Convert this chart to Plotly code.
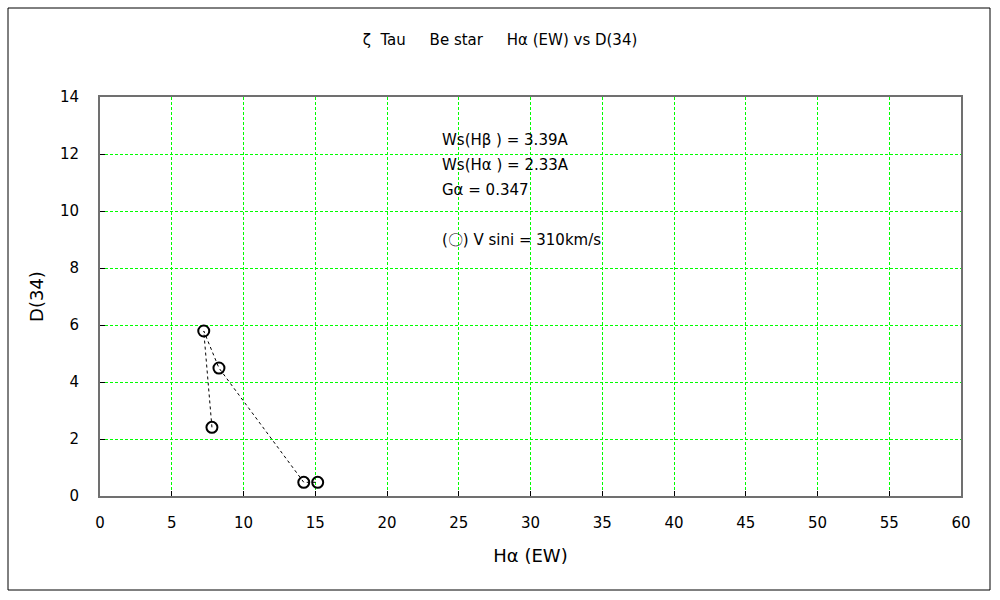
import plotly.graph_objects as go

# Data: Hα (EW) vs D(34), in plotting order
ha_ew = [7.8, 7.23, 8.29, 14.2, 15.17]
d34 = [2.41, 5.79, 4.49, 0.48, 0.48]

x_ticks = list(range(0, 61, 5))
y_ticks = list(range(0, 15, 2))

FONT = "DejaVu Sans, sans-serif"

fig = go.Figure()
fig.add_trace(go.Scatter(
    x=ha_ew, y=d34, mode="lines+markers",
    line=dict(color="black", width=1, dash="3px,3px"),
    marker=dict(symbol="circle-open", size=11, color="black", line=dict(width=2, color="black")),
    showlegend=False,
))

fig.update_layout(
    width=1000, height=600,
    paper_bgcolor="white", plot_bgcolor="white",
    margin=dict(l=100, r=39, t=97, b=104),
    font=dict(family=FONT, size=15, color="black"),
    title=dict(text="ζ  Tau     Be star     Hα (EW) vs D(34)", x=0.5, xanchor="center",
               y=1 - 40 / 600, yanchor="middle", font=dict(size=15, family=FONT)),
    xaxis=dict(range=[0, 60], tickvals=x_ticks, ticktext=[str(v) for v in x_ticks],
               showgrid=True, gridcolor="#00FF00", griddash="3px,2px", gridwidth=1,
               showline=True, linecolor="#707070", linewidth=2, mirror=True,
               ticks="inside", ticklen=5, tickcolor="black", zeroline=False,
               title=dict(text="Hα (EW)", standoff=18), ticklabelstandoff=12),
    yaxis=dict(range=[0, 14], tickvals=y_ticks, ticktext=[str(v) for v in y_ticks],
               showgrid=True, gridcolor="#00FF00", griddash="3px,2px", gridwidth=1,
               showline=True, linecolor="#707070", linewidth=2, mirror=True,
               ticks="inside", ticklen=5, tickcolor="black", zeroline=False,
               title=dict(text="D(34)", standoff=12), ticklabelstandoff=16),
)

notes = [
    ("Ws(Hβ ) = 3.39A", 140),
    ("Ws(Hα ) = 2.33A", 165),
    ("Gα = 0.347", 190),
    ("(〇) V sini = 310km/s", 240),
]
for txt, ypx in notes:
    fig.add_annotation(text=txt, xref="paper", yref="paper",
                       x=(440 - 100) / 861, y=(496 - ypx) / 399,
                       xanchor="left", yanchor="middle", showarrow=False,
                       font=dict(size=15, family=FONT, color="black"))

fig.add_shape(type="rect", xref="paper", yref="paper",
              x0=(8 - 100) / 861, x1=(990 - 100) / 861,
              y0=(496 - 590) / 399, y1=(496 - 8) / 399,
              line=dict(color="black", width=1), layer="below")

fig.write_html("out.html", config={"displayModeBar": False},
               post_script="document.body.style.margin='0';")
